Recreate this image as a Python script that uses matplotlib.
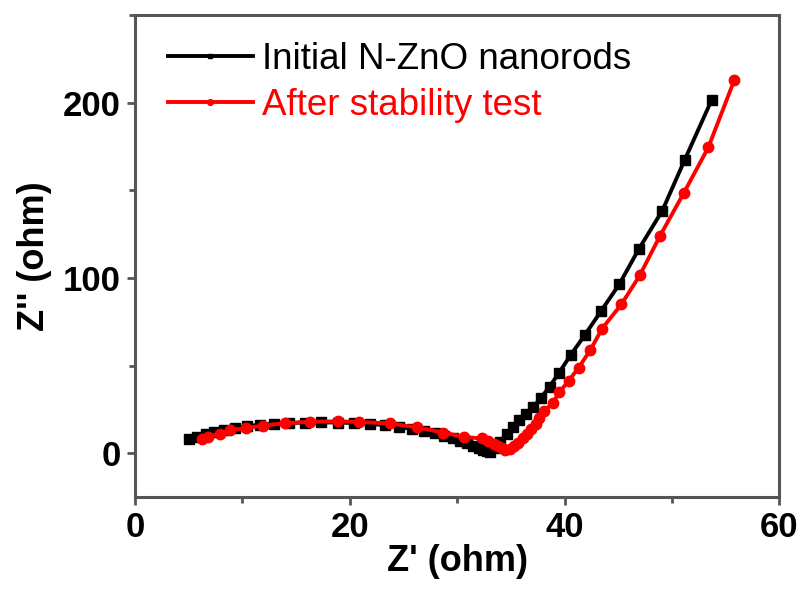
import matplotlib
matplotlib.use('Agg')
import matplotlib.pyplot as plt
from matplotlib.ticker import MultipleLocator

# Nyquist data
init_x = [5.0, 5.8, 6.6, 7.4, 8.3, 9.3, 10.4, 11.6, 12.9, 14.3, 15.8, 17.3,
          18.9, 20.4, 21.9, 23.3, 24.6, 25.8, 26.9, 27.9, 28.8, 29.6, 30.3,
          30.9, 31.5, 32.0, 32.4, 32.8, 33.1, 33.5, 34.0, 34.6, 35.2, 35.8,
          36.4, 37.1, 37.8, 38.6, 39.5, 40.6, 41.9, 43.4, 45.1, 46.9, 49.1,
          51.2, 53.7]
init_y = [8.0, 9.5, 10.8, 12.0, 13.3, 14.4, 15.4, 16.2, 16.8, 17.2, 17.5, 17.6,
          17.5, 17.2, 16.7, 16.0, 15.0, 13.9, 12.7, 11.3, 9.9, 8.4, 7.0,
          5.6, 4.3, 3.0, 1.9, 1.0, 0.6, 3.0, 6.5, 11.0, 15.0, 18.8,
          22.5, 26.5, 31.5, 38.0, 46.0, 56.3, 67.5, 81.1, 96.4, 116.3, 138.3,
          167.5, 201.5]

after_x = [6.2, 6.8, 7.9, 8.8, 10.3, 11.9, 14.0, 16.3, 18.9, 20.9, 23.7, 26.3,
           28.7, 30.6, 32.3, 32.9, 33.4, 33.8, 34.2, 34.5, 34.9, 35.3, 35.7,
           36.1, 36.5, 36.9, 37.3, 37.6, 38.1, 38.9, 39.5, 40.4, 41.3, 42.4,
           43.5, 45.3, 47.0, 48.9, 51.1, 53.4, 55.8]
after_y = [8.0, 9.5, 11.0, 13.0, 14.3, 15.8, 17.1, 17.9, 18.2, 17.8, 17.0, 14.7,
           11.8, 9.3, 8.4, 7.0, 5.5, 4.0, 2.7, 1.8, 2.5, 4.0, 6.0,
           8.5, 11.0, 13.8, 16.6, 20.0, 24.0, 28.6, 34.7, 41.4, 48.7, 58.8,
           71.1, 85.0, 101.4, 124.1, 148.4, 174.6, 212.7]

plt.rcParams['font.family'] = ['Liberation Sans', 'DejaVu Sans']

fig = plt.figure(figsize=(8.07, 5.90), dpi=100)
ax = fig.add_axes([0.1673, 0.1576, 0.7984, 0.817])

ax.plot(init_x, init_y, color='black', lw=2.8, marker='s', ms=6.5,
        label='Initial N-ZnO nanorods')
ax.plot(after_x, after_y, color='red', lw=2.8, marker='o', ms=7.5,
        label='After stability test')

ax.set_xlim(0, 60)
ax.set_ylim(-25, 250)
ax.xaxis.set_major_locator(MultipleLocator(20))
ax.xaxis.set_minor_locator(MultipleLocator(10))
ax.yaxis.set_major_locator(MultipleLocator(100))
ax.yaxis.set_minor_locator(MultipleLocator(50))

for s in ax.spines.values():
    s.set_color('#555555')
    s.set_linewidth(2.2)
ax.tick_params(which='major', direction='out', length=6, width=2, color='#555555',
               labelsize=25, pad=4)
ax.tick_params(which='minor', direction='out', length=4, width=2, color='#555555')
for lab in ax.get_xticklabels() + ax.get_yticklabels():
    lab.set_fontweight('bold')

ax.set_xlabel("Z' (ohm)", fontsize=26, fontweight='bold', labelpad=0)
ax.set_ylabel("Z'' (ohm)", fontsize=26, fontweight='bold', labelpad=8)

leg = ax.legend(loc='upper left', frameon=False, fontsize=26.5, handlelength=2.3,
                handletextpad=0.25, labelspacing=0.3, borderaxespad=0.5,
                markerscale=0.55, bbox_to_anchor=(0.0, 1.012))
for t, c in zip(leg.get_texts(), ['black', 'red']):
    t.set_color(c)

fig.savefig('out.png', dpi=100)
